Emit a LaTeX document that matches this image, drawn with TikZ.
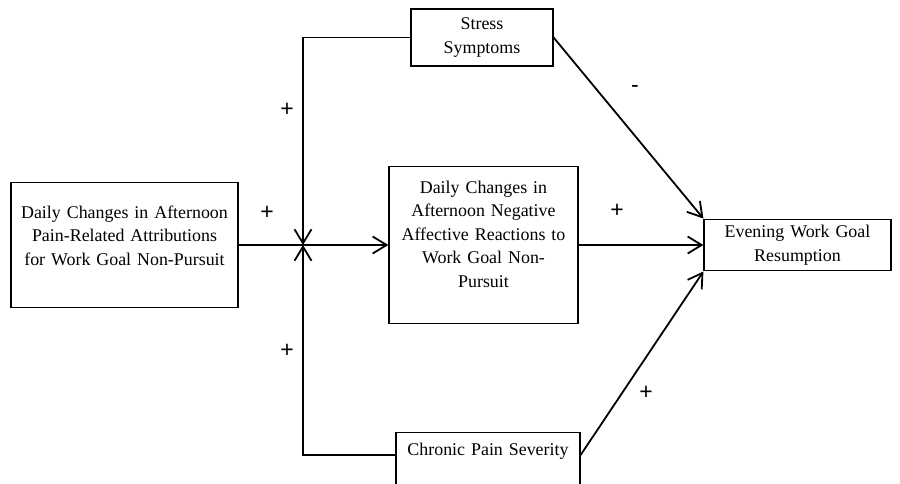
\documentclass[tikz,border=0pt]{standalone}
\usepackage{fontspec}
\setmainfont{Liberation Serif}
\newfontfamily\signfont{Liberation Sans}
\usetikzlibrary{arrows.meta}
\newcommand{\padbot}[1]{\rule[-#1]{0pt}{#1}}

\tikzset{
  blk/.style={draw, line width=1.2pt, align=center, inner sep=6pt,
    font=\fontsize{17.9}{23.5}\selectfont},
  lnk/.style={line width=1.8pt, -{Straight Barb[length=14pt,width=17pt,line width=1.8pt]}},
  sgn/.style={font=\signfont\fontsize{23}{23}\selectfont, inner sep=0pt}
}

\begin{document}
\begin{tikzpicture}[x=1pt,y=-1pt]
\useasboundingbox (0,0) rectangle (900,483);
\node[blk, minimum width=227, minimum height=125, text width=212] (attr) at (124.5,245) {Daily Changes in Afternoon\\Pain-Related Attributions\\for Work Goal Non-Pursuit\padbot{19pt}};
\node[blk, minimum width=189, minimum height=157, text width=176] (react) at (483.5,245) {Daily Changes in\\Afternoon Negative\\Affective Reactions to\\Work Goal Non-\\Pursuit\padbot{22pt}};
\node[blk, minimum width=142, minimum height=57, text width=130] (stress) at (482,37.5) {Stress\\Symptoms};
\node[blk, minimum width=184, text width=172, inner ysep=10pt, anchor=north] (chronic) at (488,432) {Chronic Pain Severity\padbot{40pt}};
\node[blk, minimum width=187, minimum height=50, text width=175] (goal) at (797.5,245) {Evening Work Goal\\Resumption};
\coordinate (j) at (303,245);

\draw[lnk] (attr.east) -- (react.west);
\draw[lnk] (stress.west) -| (j);
\draw[lnk] (chronic.base west) -| (j);
\draw[lnk] (react.east) -- (goal.west);
\draw[lnk] (stress.east) -- (goal.north west);
\draw[lnk] (chronic.base east) -- (goal.south west);

\node[sgn] (pStress) at (287,110) {+};
\node[sgn] (pAttr) at (267,213) {+};
\node[sgn] (pChronic) at (287,351) {+};
\node[sgn] (mStress) at (635,89) {-};
\node[sgn] (pReact) at (617,211) {+};
\node[sgn] (pPain) at (646,393) {+};
\end{tikzpicture}
\end{document}
